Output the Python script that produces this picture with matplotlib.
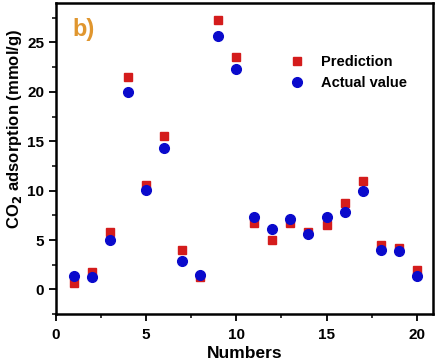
import matplotlib
matplotlib.use('Agg')
import matplotlib.pyplot as plt
from matplotlib.ticker import MultipleLocator

numbers = list(range(1, 21))
prediction = [0.7, 1.8, 5.8, 21.5, 10.6, 15.5, 4.0, 1.3, 27.3, 23.5,
              6.7, 5.0, 6.7, 5.8, 6.5, 8.7, 11.0, 4.5, 4.2, 2.0]
actual = [1.4, 1.3, 5.0, 20.0, 10.1, 14.3, 2.9, 1.5, 25.7, 22.3,
          7.3, 6.1, 7.1, 5.6, 7.3, 7.8, 10.0, 4.0, 3.9, 1.4]

plt.rcParams['font.family'] = ['Liberation Sans', 'DejaVu Sans']
plt.rcParams['font.weight'] = 'bold'

fig = plt.figure(figsize=(4.4, 3.64), dpi=100)
ax = fig.add_axes([0.127, 0.137, 0.857, 0.855])

ax.plot(numbers, prediction, 's', color='#d41c1c', markersize=6.3, label='Prediction')
ax.plot(numbers, actual, 'o', color='#0a0acc', markersize=7, label='Actual value')

ax.set_xlim(0, 20.9)
ax.set_ylim(-2.5, 29)
ax.xaxis.set_major_locator(MultipleLocator(5))
ax.xaxis.set_minor_locator(MultipleLocator(2.5))
ax.yaxis.set_major_locator(MultipleLocator(5))
ax.yaxis.set_minor_locator(MultipleLocator(2.5))
ax.tick_params(which='major', direction='out', length=5, width=1.3, labelsize=11)
ax.tick_params(axis='x', which='major', pad=5)
ax.tick_params(which='minor', direction='out', length=3, width=1.1)
for s in ax.spines.values():
    s.set_linewidth(1.8)
for lab in ax.get_xticklabels() + ax.get_yticklabels():
    lab.set_fontweight('bold')

ax.set_xlabel('Numbers', fontsize=12.5, fontweight='bold', labelpad=3)
ax.set_ylabel('CO$_\\mathbf{2}$ adsorption (mmol/g)', fontsize=12, fontweight='bold')
ax.yaxis.set_label_coords(-0.085, 0.595)

ax.text(0.045, 0.913, 'b)', transform=ax.transAxes, fontsize=17, fontweight='bold',
        color='#e0962e', va='center')

ax.legend(loc='upper right', bbox_to_anchor=(0.965, 0.875), frameon=False,
          prop={'size': 10.5, 'weight': 'bold'}, handletextpad=0.6, labelspacing=0.5)

plt.savefig('out.png', dpi=100)
